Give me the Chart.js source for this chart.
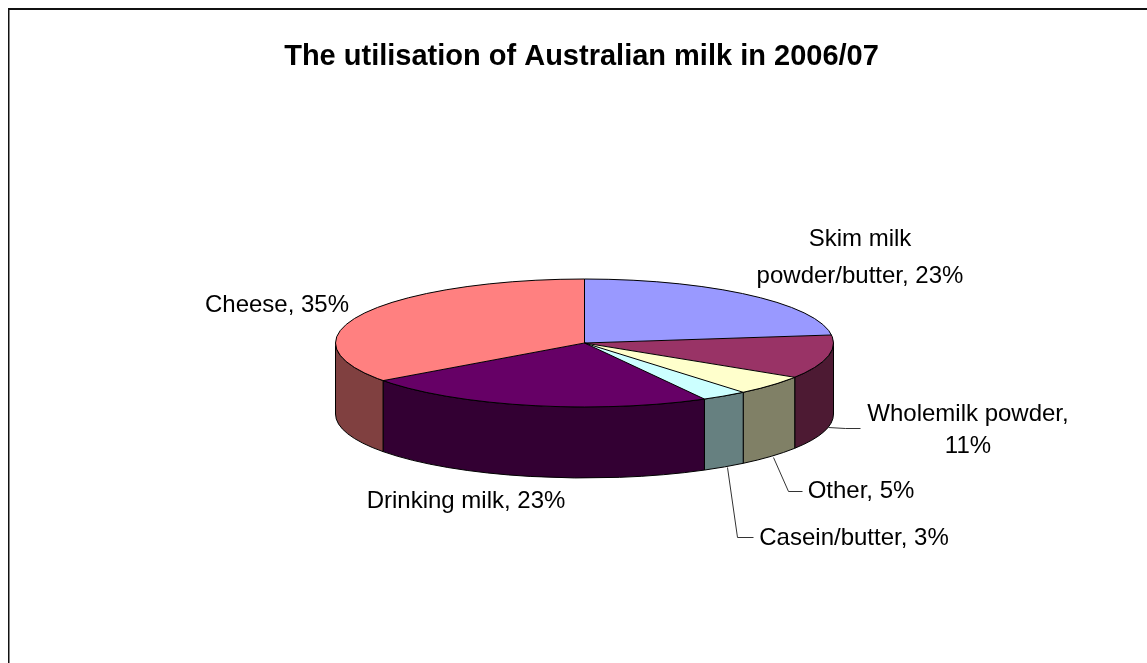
<!DOCTYPE html>
<html>
<head>
<meta charset="utf-8">
<title>Australian milk utilisation</title>
<script src="https://cdn.jsdelivr.net/npm/chart.js@4"></script>
<style>
  html,body{margin:0;padding:0;background:#fff;overflow:hidden}
  canvas{display:block}
</style>
</head>
<body>
<canvas id="milk" width="1147" height="663"></canvas>
<script>
var chartTitle = 'The utilisation of Australian milk in 2006/07';
var categories = ['Skim milk powder/butter','Wholemilk powder','Other','Casein/butter','Drinking milk','Cheese'];
var shares = [23,11,5,3,23,35];
var sliceColors = ['#9999FF','#993366','#FFFFCC','#CCFFFF','#660066','#FF8080'];
var wallColors = ['#4D4D80','#4D1A33','#808066','#668080','#330033','#804040'];

// where the squashed pie sits on the page
var pie = {x:584.5, y:343, squash:0.257, depth:71};

// label placement, same order as categories. lines are split where the original wraps
var labelFont = '24px "Liberation Sans", Arial, sans-serif';
var labelSpots = [
  {x:860, y:[246,283], breakAt:'Skim milk '},
  {x:968, y:[421,453], breakAt:'Wholemilk powder, '},
  {x:861, y:[498]},
  {x:854, y:[545]},
  {x:466, y:[508]},
  {x:277, y:[312]}
];
var leaders = [
  null,
  [[828,427],[845,428],[860,428]],
  [[773,457],[788,491],[802,491]],
  [[727,467],[737,537],[753,537]],
  null,
  null
];

function labelLines(i){
  var txt = categories[i]+', '+shares[i]+'%';
  var cut = labelSpots[i].breakAt;
  if(!cut) return [txt];
  return [cut.trim(), txt.slice(cut.length)];
}

var frame = {
  id:'frame',
  beforeDraw:function(c){
    var ctx = c.ctx;
    ctx.save();
    ctx.fillStyle = '#111';
    ctx.fillRect(8,8,1139,2);
    ctx.fillRect(8,8,1.5,655);
    ctx.restore();
  }
};

var tilted = {
  id:'tilted',
  beforeDatasetsDraw:function(c){
    var ctx = c.ctx, arcs = c.getDatasetMeta(0).data;
    var rx = arcs[0].outerRadius, ry = rx*pie.squash;
    // side walls, only the part of each slice that faces the viewer
    ctx.save();
    ctx.strokeStyle = '#000';
    ctx.lineWidth = 1;
    arcs.forEach(function(a,i){
      var a1 = Math.max(a.startAngle,0), a2 = Math.min(a.endAngle,Math.PI);
      if(a2<=a1) return;
      ctx.beginPath();
      ctx.ellipse(pie.x,pie.y,rx,ry,0,a1,a2);
      ctx.ellipse(pie.x,pie.y+pie.depth,rx,ry,0,a2,a1,true);
      ctx.closePath();
      ctx.fillStyle = wallColors[i];
      ctx.fill();
      ctx.stroke();
    });
    ctx.restore();
    // the slices themselves get drawn flattened
    ctx.save();
    ctx.translate(pie.x,pie.y);
    ctx.scale(1,pie.squash);
    ctx.translate(-arcs[0].x,-arcs[0].y);
  },
  afterDatasetsDraw:function(c){
    var ctx = c.ctx, arcs = c.getDatasetMeta(0).data;
    ctx.restore();
    var rx = arcs[0].outerRadius, ry = rx*pie.squash;
    ctx.save();
    ctx.strokeStyle = '#000';
    ctx.lineWidth = 1;
    arcs.forEach(function(a){
      ctx.beginPath();
      ctx.moveTo(pie.x,pie.y);
      ctx.lineTo(pie.x+rx*Math.cos(a.startAngle),pie.y+ry*Math.sin(a.startAngle));
      ctx.stroke();
    });
    ctx.beginPath();
    ctx.ellipse(pie.x,pie.y,rx,ry,0,0,Math.PI*2);
    ctx.stroke();
    // leader lines
    ctx.strokeStyle = '#333';
    leaders.forEach(function(pts){
      if(!pts) return;
      ctx.beginPath();
      pts.forEach(function(p,k){ if(k) ctx.lineTo(p[0]+.5,p[1]+.5); else ctx.moveTo(p[0]+.5,p[1]+.5); });
      ctx.stroke();
    });
    // labels
    ctx.fillStyle = '#000';
    ctx.font = labelFont;
    ctx.textAlign = 'center';
    ctx.textBaseline = 'alphabetic';
    categories.forEach(function(n,i){
      labelLines(i).forEach(function(line,k){
        ctx.fillText(line,labelSpots[i].x,labelSpots[i].y[k]);
      });
    });
    ctx.restore();
  }
};

new Chart(document.getElementById('milk'),{
  type:'pie',
  data:{labels:categories, datasets:[{data:shares, backgroundColor:sliceColors, borderWidth:0, radius:249}]},
  plugins:[frame,tilted],
  options:{
    responsive:false,
    animation:false,
    layout:{padding:{left:16,right:0,top:0,bottom:0}},
    plugins:{
      legend:{display:false},
      tooltip:{enabled:false},
      title:{
        display:true,
        text:chartTitle,
        color:'#000',
        font:{family:'"Liberation Sans", Arial, sans-serif',size:29,weight:'bold'},
        padding:{top:40,bottom:2}
      }
    }
  }
});
</script>
</body>
</html>
